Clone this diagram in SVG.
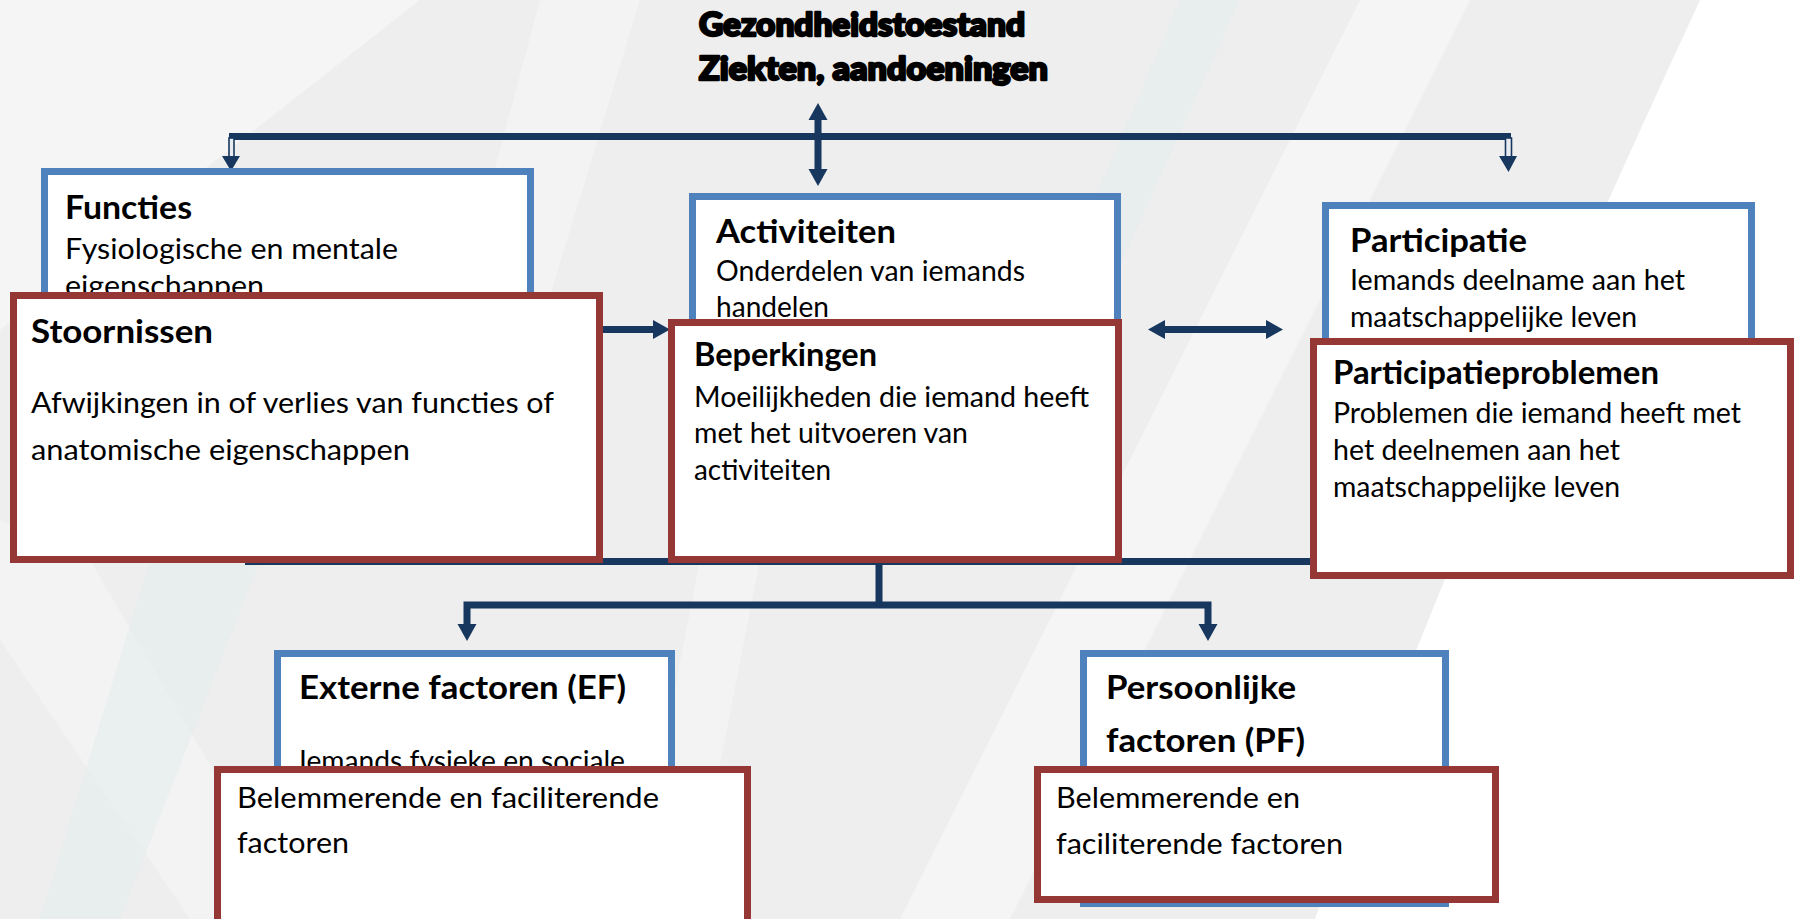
<svg xmlns="http://www.w3.org/2000/svg" width="1795" height="919" viewBox="0 0 1795 919">
  <style>
    .h { font-family: Lato, "Open Sans", "Liberation Sans", sans-serif; font-weight: 700; font-size: 33px; fill: #000; }
    .b { font-family: Lato, "Open Sans", "Liberation Sans", sans-serif; font-weight: 400; font-size: 29.5px; fill: #000; }
    .t { font-family: Lato, "Open Sans", "Liberation Sans", sans-serif; font-weight: 900; font-size: 32px; fill: #000; stroke: #000; stroke-width: 2.4; stroke-linejoin: round; }
    .blue { fill: #ffffff; stroke: #4F81BD; stroke-width: 7; }
    .red { fill: #ffffff; stroke: #953735; stroke-width: 7; }
    .conn { fill: none; stroke: #17375E; stroke-width: 7; stroke-linejoin: miter; }
    .head { fill: #17375E; stroke: none; }
    .hollow { fill: #e8ebf0; stroke: #17375E; stroke-width: 1.6; }
    .bgw { fill: #ffffff; }
  </style>
  <defs>
    <marker id="ah" markerUnits="userSpaceOnUse" markerWidth="20" markerHeight="22" viewBox="0 -11 18 22" refX="0" refY="0" orient="auto-start-reverse" overflow="visible">
      <path class="head" d="M0,-9.5 L17,0 L0,9.5 Z"/>
    </marker>
  </defs>

  <!-- background -->
  <g id="background">
    <rect x="0" y="0" width="1795" height="919" fill="#eeeeee"/>
    <path class="bgw" opacity="0.4" d="M0,0 L420,0 L0,330 Z"/>
    <path class="bgw" opacity="0.3" d="M540,0 L640,0 L470,560 L390,560 Z"/>
    <path class="bgw" opacity="0.4" d="M1360,0 L1470,0 L1010,919 L900,919 Z"/>
    <path class="bgw" opacity="0.3" d="M0,520 L90,560 L300,919 L190,919 L0,640 Z"/>
    <path class="bgw" opacity="0.3" d="M700,560 L760,560 L690,919 L630,919 Z"/>
    <path class="bgw" opacity="0.95" d="M1700,0 L1795,0 L1795,919 L1315,919 Q1440,560 1700,0 Z"/>
    <path fill="#dfeeea" opacity="0.45" d="M150,560 L260,560 L120,919 L40,919 Z"/>
    <path fill="#dfeeea" opacity="0.4" d="M1180,0 L1240,0 L1050,420 L1000,420 Z"/>
  </g>

  <!-- connectors -->
  <g id="connectors">
    <line class="conn" x1="229" y1="136.5" x2="1511" y2="136.5"/>
    <rect class="hollow" x="229" y="138" width="5" height="19"/>
    <polygon class="head" points="222,156 240,156 231,171"/>
    <rect class="hollow" x="1505.5" y="138" width="6" height="19"/>
    <polygon class="head" points="1499,156 1517,156 1508.5,172"/>
    <line class="conn" x1="818" y1="120" x2="818" y2="169" marker-start="url(#ah)" marker-end="url(#ah)"/>
    <line class="conn" x1="603" y1="329.5" x2="653" y2="329.5" marker-end="url(#ah)"/>
    <line class="conn" x1="1165" y1="329.5" x2="1266" y2="329.5" marker-start="url(#ah)" marker-end="url(#ah)"/>
    <line class="conn" stroke-width="8" x1="245" y1="561.5" x2="1312" y2="561.5"/>
    <line class="conn" stroke-width="8" x1="879" y1="561" x2="879" y2="605"/>
    <path class="conn" d="M467,624 L467,605 L1208,605 L1208,624" marker-start="url(#ah)" marker-end="url(#ah)"/>
  </g>

  <!-- title -->
  <g id="gezondheidstoestand">
    <text class="t" x="699" y="36" textLength="326" lengthAdjust="spacingAndGlyphs">Gezondheidstoestand</text>
    <text class="t" x="699" y="80" textLength="349" lengthAdjust="spacingAndGlyphs">Ziekten, aandoeningen</text>
  </g>

  <!-- blue nodes -->
  <g id="functies">
    <rect class="blue" x="44.5" y="171.5" width="486" height="160"/>
    <text class="h" x="65" y="219" textLength="127" lengthAdjust="spacingAndGlyphs">Functies</text>
    <text class="b" x="65" y="259" textLength="333" lengthAdjust="spacingAndGlyphs">Fysiologische en mentale</text>
    <text class="b" x="65" y="296" textLength="199" lengthAdjust="spacingAndGlyphs">eigenschappen</text>
  </g>
  <g id="activiteiten">
    <rect class="blue" x="692.5" y="196.5" width="425" height="160"/>
    <text class="h" x="716" y="243" textLength="180" lengthAdjust="spacingAndGlyphs">Activiteiten</text>
    <text class="b" x="716" y="281" textLength="309" lengthAdjust="spacingAndGlyphs">Onderdelen van iemands</text>
    <text class="b" x="716" y="317" textLength="113" lengthAdjust="spacingAndGlyphs">handelen</text>
  </g>
  <g id="participatie">
    <rect class="blue" x="1325.5" y="205.5" width="426" height="160"/>
    <text class="h" x="1350" y="252" textLength="177" lengthAdjust="spacingAndGlyphs">Participatie</text>
    <text class="b" x="1350" y="290" textLength="335" lengthAdjust="spacingAndGlyphs">Iemands deelname aan het</text>
    <text class="b" x="1350" y="327" textLength="287" lengthAdjust="spacingAndGlyphs">maatschappelijke leven</text>
  </g>
  <g id="externe-factoren">
    <rect class="blue" x="277.5" y="653.5" width="394" height="300"/>
    <text class="h" x="299" y="699" textLength="327" lengthAdjust="spacingAndGlyphs">Externe factoren (EF)</text>
    <text class="b" x="299" y="771" textLength="326" lengthAdjust="spacingAndGlyphs">Iemands fysieke en sociale</text>
  </g>
  <g id="persoonlijke-factoren">
    <rect class="blue" x="1083.5" y="653.5" width="362" height="250"/>
    <text class="h" x="1106" y="699" textLength="190" lengthAdjust="spacingAndGlyphs">Persoonlijke</text>
    <text class="h" x="1106" y="752" textLength="199" lengthAdjust="spacingAndGlyphs">factoren (PF)</text>
  </g>

  <!-- red nodes -->
  <g id="stoornissen">
    <rect class="red" x="13.5" y="295.5" width="586" height="264"/>
    <text class="h" x="31" y="343" textLength="182" lengthAdjust="spacingAndGlyphs">Stoornissen</text>
    <text class="b" x="31" y="413" textLength="523" lengthAdjust="spacingAndGlyphs">Afwijkingen in of verlies van functies of</text>
    <text class="b" x="31" y="460" textLength="379" lengthAdjust="spacingAndGlyphs">anatomische eigenschappen</text>
  </g>
  <g id="beperkingen">
    <rect class="red" x="671.5" y="322.5" width="447" height="237"/>
    <text class="h" x="694" y="366" textLength="183" lengthAdjust="spacingAndGlyphs">Beperkingen</text>
    <text class="b" x="694" y="407" textLength="395" lengthAdjust="spacingAndGlyphs">Moeilijkheden die iemand heeft</text>
    <text class="b" x="694" y="443" textLength="274" lengthAdjust="spacingAndGlyphs">met het uitvoeren van</text>
    <text class="b" x="694" y="480" textLength="137" lengthAdjust="spacingAndGlyphs">activiteiten</text>
  </g>
  <g id="participatieproblemen">
    <rect class="red" x="1313.5" y="341.5" width="477" height="234"/>
    <text class="h" x="1333" y="384" textLength="326" lengthAdjust="spacingAndGlyphs">Participatieproblemen</text>
    <text class="b" x="1333" y="423" textLength="408" lengthAdjust="spacingAndGlyphs">Problemen die iemand heeft met</text>
    <text class="b" x="1333" y="460" textLength="287" lengthAdjust="spacingAndGlyphs">het deelnemen aan het</text>
    <text class="b" x="1333" y="497" textLength="287" lengthAdjust="spacingAndGlyphs">maatschappelijke leven</text>
  </g>
  <g id="ef-belemmerend">
    <rect class="red" x="217.5" y="769.5" width="530" height="200"/>
    <text class="b" x="237" y="808" textLength="422" lengthAdjust="spacingAndGlyphs">Belemmerende en faciliterende</text>
    <text class="b" x="237" y="853" textLength="112" lengthAdjust="spacingAndGlyphs">factoren</text>
  </g>
  <g id="pf-belemmerend">
    <rect class="red" x="1037.5" y="769.5" width="458" height="130"/>
    <text class="b" x="1056" y="808" textLength="244" lengthAdjust="spacingAndGlyphs">Belemmerende en</text>
    <text class="b" x="1056" y="854" textLength="287" lengthAdjust="spacingAndGlyphs">faciliterende factoren</text>
  </g>
</svg>
